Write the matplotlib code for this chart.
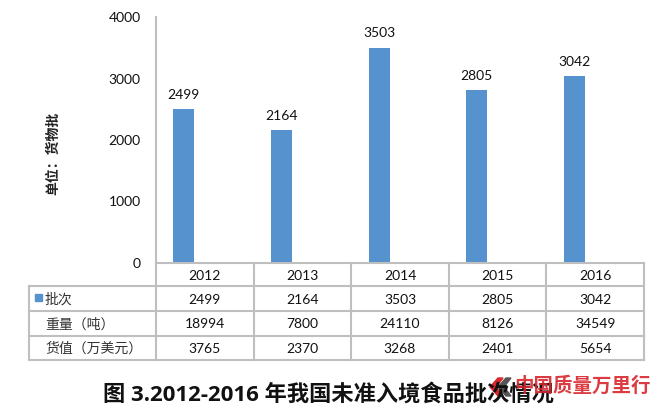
import matplotlib
matplotlib.use("Agg")
import matplotlib.pyplot as plt
from matplotlib.patches import Rectangle, Polygon

plt.rcParams['font.family'] = ['Lato', 'Noto Sans CJK SC', 'DejaVu Sans']

years = ['2012', '2013', '2014', '2015', '2016']
batches = [2499, 2164, 3503, 2805, 3042]
weight = [18994, 7800, 24110, 8126, 34549]
value = [3765, 2370, 3268, 2401, 5654]
row_labels = ['批次', '重量（吨）', '货值（万美元）']
ylabel = '单位：货物批'
title = '图 3.2012-2016 年我国未准入境食品批次情况'
watermark = '中国质量万里行'

W, H = 662, 417
bar_color = '#5592CE'
grid_color = '#BFBFBF'

fig = plt.figure(figsize=(W / 100, H / 100), dpi=100)

# plot area in pixels
x0, x1 = 156, 644
y_top, y_zero = 17, 263
ax = fig.add_axes([x0 / W, 1 - y_zero / H, (x1 - x0) / W, (y_zero - y_top) / H])
xs = list(range(len(years)))
bw = 0.215
ax.bar([x - bw for x in xs], batches, width=bw, color=bar_color)
for x, v in zip(xs, batches):
    ax.annotate(str(v), (x - bw, v), xytext=(0, 6), textcoords='offset points',
                ha='center', va='bottom', fontsize=10, color='#111111')
ax.set_xlim(-0.5, len(years) - 0.5)
ax.set_ylim(0, 4000)
ax.set_yticks([0, 1000, 2000, 3000, 4000])
ax.set_xticks([])
ax.tick_params(axis='y', length=0, pad=11, labelsize=10, colors='#111111')
for s in ['top', 'right', 'bottom']:
    ax.spines[s].set_visible(False)
ax.spines['left'].set_color(grid_color)
ax.spines['left'].set_linewidth(1.5)

# overlay axes in pixel coordinates for table / text
ov = fig.add_axes([0, 0, 1, 1])
ov.set_xlim(0, W)
ov.set_ylim(H, 0)
ov.axis('off')

col_w = (x1 - x0) / len(years)
row_y = [263, 286, 311, 336, 360]
lab_x0 = 29
lw = 1.5
ov.plot([x0, x1], [row_y[0], row_y[0]], color=grid_color, lw=lw)
for y in row_y[1:]:
    ov.plot([lab_x0, x1], [y, y], color=grid_color, lw=lw)
for i in range(len(years) + 1):
    xx = x0 + i * col_w
    ov.plot([xx, xx], [row_y[0], row_y[-1]], color=grid_color, lw=lw)
ov.plot([lab_x0, lab_x0], [row_y[1], row_y[-1]], color=grid_color, lw=lw)

for i, yv in enumerate(years):
    cx = x0 + (i + 0.5) * col_w
    ov.text(cx, (row_y[0] + row_y[1]) / 2 + 1, yv, ha='center', va='center', fontsize=10, color='#111111')

rows = [batches, weight, value]
for r, (lab, data) in enumerate(zip(row_labels, rows)):
    cy = (row_y[r + 1] + row_y[r + 2]) / 2 + 1
    ov.text(45, cy, lab, ha='left', va='center', fontsize=10, color='#333333',
            family=['Noto Sans CJK SC', 'DejaVu Sans'])
    for i, v in enumerate(data):
        cx = x0 + (i + 0.5) * col_w
        ov.text(cx, cy, str(v), ha='center', va='center', fontsize=10, color='#111111')
ov.add_patch(Rectangle((35, 294), 7, 7, color=bar_color))

# y label
ov.text(53, 153, ylabel, rotation=90, ha='center', va='center', fontsize=10,
        fontweight='bold', color='#222222', family=['Noto Sans CJK SC', 'DejaVu Sans'])

# title
ov.text(328, 395, title, ha='center', va='center', fontsize=16, fontweight='bold',
        color='#111111', family=['Open Sans', 'Noto Sans CJK SC', 'DejaVu Sans'])

# watermark logo
ov.add_patch(Polygon([[498, 378], [490, 387], [498, 396], [503, 396], [496, 387], [503, 378]],
                     closed=True, color='#D8262C'))
ov.add_patch(Polygon([[506, 378], [498, 387], [506, 396], [511, 396], [504, 387], [511, 378]],
                     closed=True, color='#555555'))
ov.text(583, 386, watermark, ha='center', va='center', fontsize=14, fontweight='bold',
        color='#D8262C', style='italic', family=['Noto Sans CJK SC', 'DejaVu Sans'], alpha=0.9)

fig.savefig('out.png', dpi=100)
